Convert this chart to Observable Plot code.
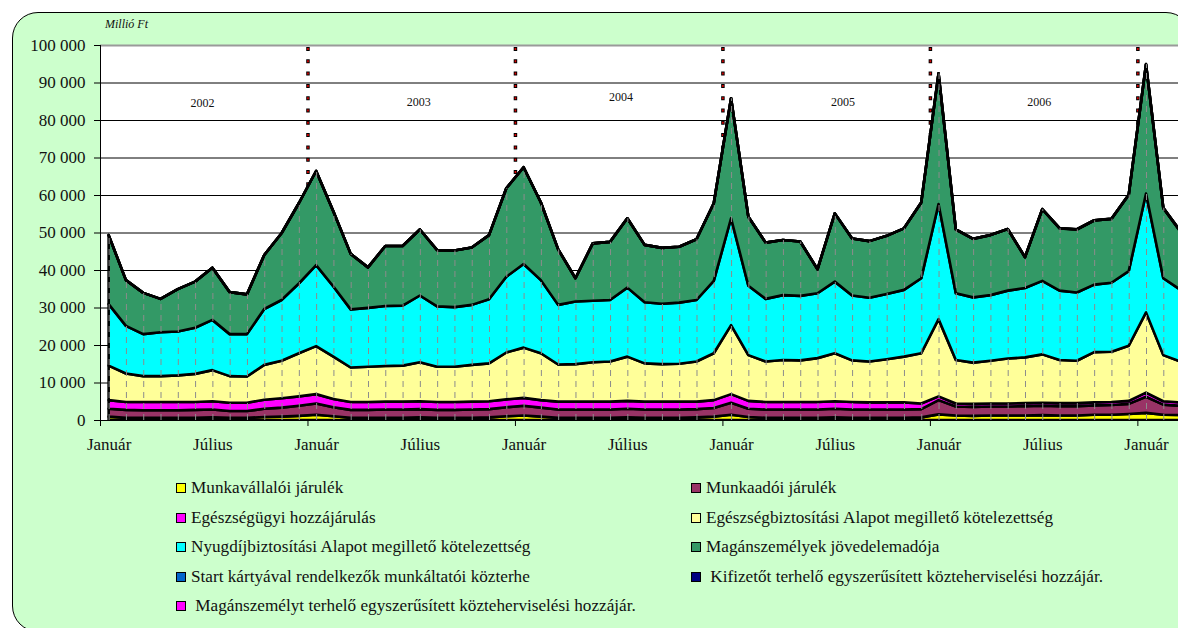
<!DOCTYPE html>
<html>
<head>
<meta charset="utf-8">
<script src="https://cdn.jsdelivr.net/npm/d3@7"></script>
<script src="https://cdn.jsdelivr.net/npm/@observablehq/plot@0.6"></script>
<style>
  html, body { margin: 0; padding: 0; overflow: hidden; background: #fff; width: 1178px; height: 628px; }
  #frame { position: absolute; left: 12px; top: 12px; width: 1178px; height: 618px; background: #CCFFCC; border: 1px solid #000; border-radius: 26px; }
  #chart { position: absolute; left: 0; top: 0; }
  #unit { position: absolute; left: 105px; top: 17px; font-family: "Liberation Serif", serif; font-style: italic; font-size: 12px; color: #111; }
  .leg { position: absolute; font-family: "Liberation Serif", serif; font-size: 17.2px; color: #111; white-space: pre; line-height: 20px; }
  .sw { position: absolute; width: 8px; height: 8px; border: 1px solid #000; }
</style>
</head>
<body>
<div id="frame"></div>
<div id="chart"></div>
<div id="unit">Millió Ft</div>
<div id="legend"></div>
<script>
// Month index 0 = 2002 január ... 62 = 2007 március
const monthIndex = d3.range(63);

const seriesNames = [
  "Munkavállalói járulék",
  "Munkaadói járulék",
  "Egészségügyi hozzájárulás",
  "Egészségbiztosítási Alapot megillető kötelezettség",
  "Nyugdíjbiztosítási Alapot megillető kötelezettség",
  "Magánszemélyek jövedelemadója",
  "Start kártyával rendelkezők munkáltatói közterhe",
  " Kifizetőt terhelő egyszerűsített közteherviselési hozzájár.",
  " Magánszemélyt terhelő egyszerűsített közteherviselési hozzájár."
];
const seriesColors = ["#FFFF00", "#993366", "#FF00FF", "#FFFF99", "#00FFFF", "#339966", "#0066CC", "#000080", "#FF00FF"];

// Values in millió Ft
const munkavallaloi = [
  900,600,600,600,600,600,700,600,600,800,900,1100,
  1400,1000,600,600,600,600,700,600,600,600,700,1000,
  1200,900,600,600,600,600,700,600,600,600,700,900,
  1400,800,600,600,600,600,700,600,600,600,600,700,
  1500,1200,1100,1200,1200,1200,1300,1200,1200,1400,1400,1600,
  1900,1400,1300];
const munkaadoi = [
  2100,2100,2000,2000,2000,2100,2100,1800,1800,2200,2400,2700,
  3000,2400,2100,2100,2200,2200,2200,2100,2100,2200,2200,2400,
  2600,2400,2200,2200,2200,2200,2300,2200,2200,2200,2200,2300,
  3200,2200,2200,2200,2200,2200,2300,2200,2200,2200,2200,2200,
  3800,2400,2400,2400,2400,2500,2500,2500,2500,2500,2600,2700,
  4300,2700,2500];
const eho = [
  2300,2100,2200,2200,2200,2100,2200,2200,2200,2400,2500,2500,
  2500,2200,2100,2100,2100,2100,2100,2100,2100,2100,2100,2100,
  2100,2000,2100,2100,2100,2100,2100,2100,2100,2100,2000,2100,
  2300,2100,2000,2000,2000,2000,2000,2000,1900,1900,1900,1500,
  1000,800,800,800,800,800,800,800,800,800,800,800,
  1100,900,900];
const egbAlap = [
  9200,7600,6900,6900,7100,7500,8300,7100,7000,9300,10000,11500,
  12800,11300,9200,9400,9500,9600,10400,9400,9400,9800,10100,12500,
  13400,12500,9900,10000,10500,10700,11800,10200,10000,10100,10700,12500,
  18400,12200,10800,11200,11100,11700,12800,11100,10900,11500,12200,13400,
  20600,11600,11000,11400,12000,12200,12900,11500,11300,13400,13400,14700,
  21400,12300,10900];
const nyugdijAlap = [
  16400,12700,11200,11700,11700,12300,13400,11200,11300,14900,16200,18600,
  21600,18700,15500,15700,16000,16000,17800,16100,15900,16000,17100,20200,
  22300,19500,15900,16700,16400,16400,18400,16300,16100,16300,16400,19300,
  28500,18500,16700,17300,17200,17300,19100,17300,17000,17400,17800,20000,
  30700,17800,17400,17500,18100,18500,19600,18500,18200,18000,18400,19900,
  31700,20500,19100];
const szja = [
  18400,12200,11000,8900,11300,12300,13900,11200,10600,14400,17800,21400,
  25100,20000,14800,10800,16000,15900,17600,15000,15100,15300,17100,23600,
  25800,20700,14800,6200,15300,15500,18500,15300,14900,14900,16200,20700,
  32000,18400,15000,14700,14500,6400,18200,15200,15100,15500,16400,20200,
  34800,17000,15600,16000,16400,8200,19100,16600,16800,17100,17000,20300,
  34400,18700,15500];
const startKartya = [
  0,0,0,0,0,0,0,0,0,0,0,0,
  0,0,0,0,0,0,0,0,0,0,0,0,
  0,0,0,0,0,0,0,0,0,0,0,0,
  0,0,0,0,0,0,0,0,0,5,10,15,
  20,20,25,25,30,30,35,35,40,40,45,50,
  50,50,50];
const ekhoKifizeto = [
  0,0,0,0,0,0,0,0,0,0,0,0,
  0,0,0,0,0,0,0,0,0,0,0,0,
  0,0,0,0,0,0,0,0,0,0,0,0,
  0,0,0,0,0,0,0,0,0,0,0,0,
  0,0,0,0,0,0,0,10,20,25,30,35,
  40,40,40];
const ekhoMaganszemely = [
  0,0,0,0,0,0,0,0,0,0,0,0,
  0,0,0,0,0,0,0,0,0,0,0,0,
  0,0,0,0,0,0,0,0,0,0,0,0,
  0,0,0,0,0,0,0,0,0,0,0,0,
  0,0,0,0,0,0,0,5,10,10,15,15,
  20,20,20];

const yTicks = [0,10000,20000,30000,40000,50000,60000,70000,80000,90000,100000];
const monthTickPos = [0,6,12,18,24,30,36,42,48,54,60];
const monthTickLabels = ["Január","Július","Január","Július","Január","Július","Január","Július","Január","Július","Január"];
const yearBoundaries = [-0.5, 11.5, 23.5, 35.5, 47.5, 59.5];
const yearLabels = ["2002","2003","2004","2005","2006"];
const yearLabelX = [5.4, 17.9, 29.6, 42.45, 53.8];
const yearLabelY = [84500, 84800, 86100, 84800, 84900];

const seriesValues = [munkavallaloi, munkaadoi, eho, egbAlap, nyugdijAlap, szja, startKartya, ekhoKifizeto, ekhoMaganszemely];
const rows = [];
seriesNames.forEach((name, s) => seriesValues[s].forEach((v, i) => rows.push({i, series: name, value: v})));
const totals = monthIndex.map(i => d3.sum(seriesValues, arr => arr[i]));
const fmt = d => d3.format(",")(d).replace(/,/g, " ");
const serif = "Liberation Serif, Times New Roman, serif";

const chart = Plot.plot({
  width: 1178,
  height: 460,
  marginLeft: 100,
  marginTop: 45,
  marginBottom: 40,
  marginRight: 0,
  style: {background: "transparent", fontFamily: serif, color: "#111"},
  x: {domain: [-0.5, 61.85], axis: null},
  y: {domain: [0, 100000], axis: null},
  color: {domain: seriesNames, range: seriesColors},
  marks: [
    Plot.frame({fill: "white", stroke: "none"}),
    Plot.ruleY(yTicks.slice(1, -1), {stroke: "black", strokeWidth: 1}),
    Plot.ruleY([100000], {stroke: "#9a9a9a", strokeWidth: 2}),
    Plot.ruleX(yearBoundaries.slice(1), {y1: 0, y2: 100000, stroke: "black", strokeWidth: 3.5, strokeDasharray: "4,8.3"}),
    Plot.ruleX(yearBoundaries.slice(1), {y1: 0, y2: 100000, stroke: "#e00000", strokeWidth: 1.6, strokeDasharray: "2,10.3", strokeDashoffset: -1}),
    Plot.areaY(rows, {x: "i", y: "value", z: "series", fill: "series", order: seriesNames, stroke: "black", strokeWidth: 2.6, strokeLinejoin: "round", clip: true}),
    Plot.ruleX(monthIndex, {x: d => d, y1: 0, y2: d => totals[d], stroke: "#8c8c8c", strokeWidth: 1, strokeDasharray: "6,5", clip: true}),
    Plot.ruleX([-0.5], {stroke: "black", strokeWidth: 1}),
    Plot.ruleY([0], {stroke: "black", strokeWidth: 1.2}),
    Plot.axisY({ticks: yTicks, tickFormat: fmt, tickSize: 6, tickPadding: 9, fontSize: 17, label: null, fill: "#111", stroke: "black"}),
    Plot.axisX({ticks: monthTickPos, tickFormat: d => monthTickLabels[monthTickPos.indexOf(d)], tickSize: 0, tickPadding: 17, fontSize: 17, label: null, fill: "#111"}),
    Plot.axisX({ticks: yearBoundaries, tickFormat: () => "", tickSize: 6, label: null, stroke: "black"}),
    Plot.text(yearLabels, {x: (d, k) => yearLabelX[k], y: (d, k) => yearLabelY[k], text: d => d, fontSize: 12, fill: "#111", fontFamily: serif})
  ]
});
document.getElementById("chart").appendChild(chart);

// Legend (two columns, Excel row order)
const legend = document.getElementById("legend");
seriesNames.forEach((name, k) => {
  const row = Math.floor(k / 2), col = k % 2;
  const cy = 488 + row * 29.6;
  const sx = col === 0 ? 176 : 691;
  const sw = document.createElement("div");
  sw.className = "sw";
  sw.style.left = sx + "px";
  sw.style.top = (cy - 5) + "px";
  sw.style.background = seriesColors[k];
  legend.appendChild(sw);
  const t = document.createElement("div");
  t.className = "leg";
  t.style.left = (sx + 15) + "px";
  t.style.top = (cy - 10) + "px";
  t.textContent = name;
  legend.appendChild(t);
});
</script>
</body>
</html>
